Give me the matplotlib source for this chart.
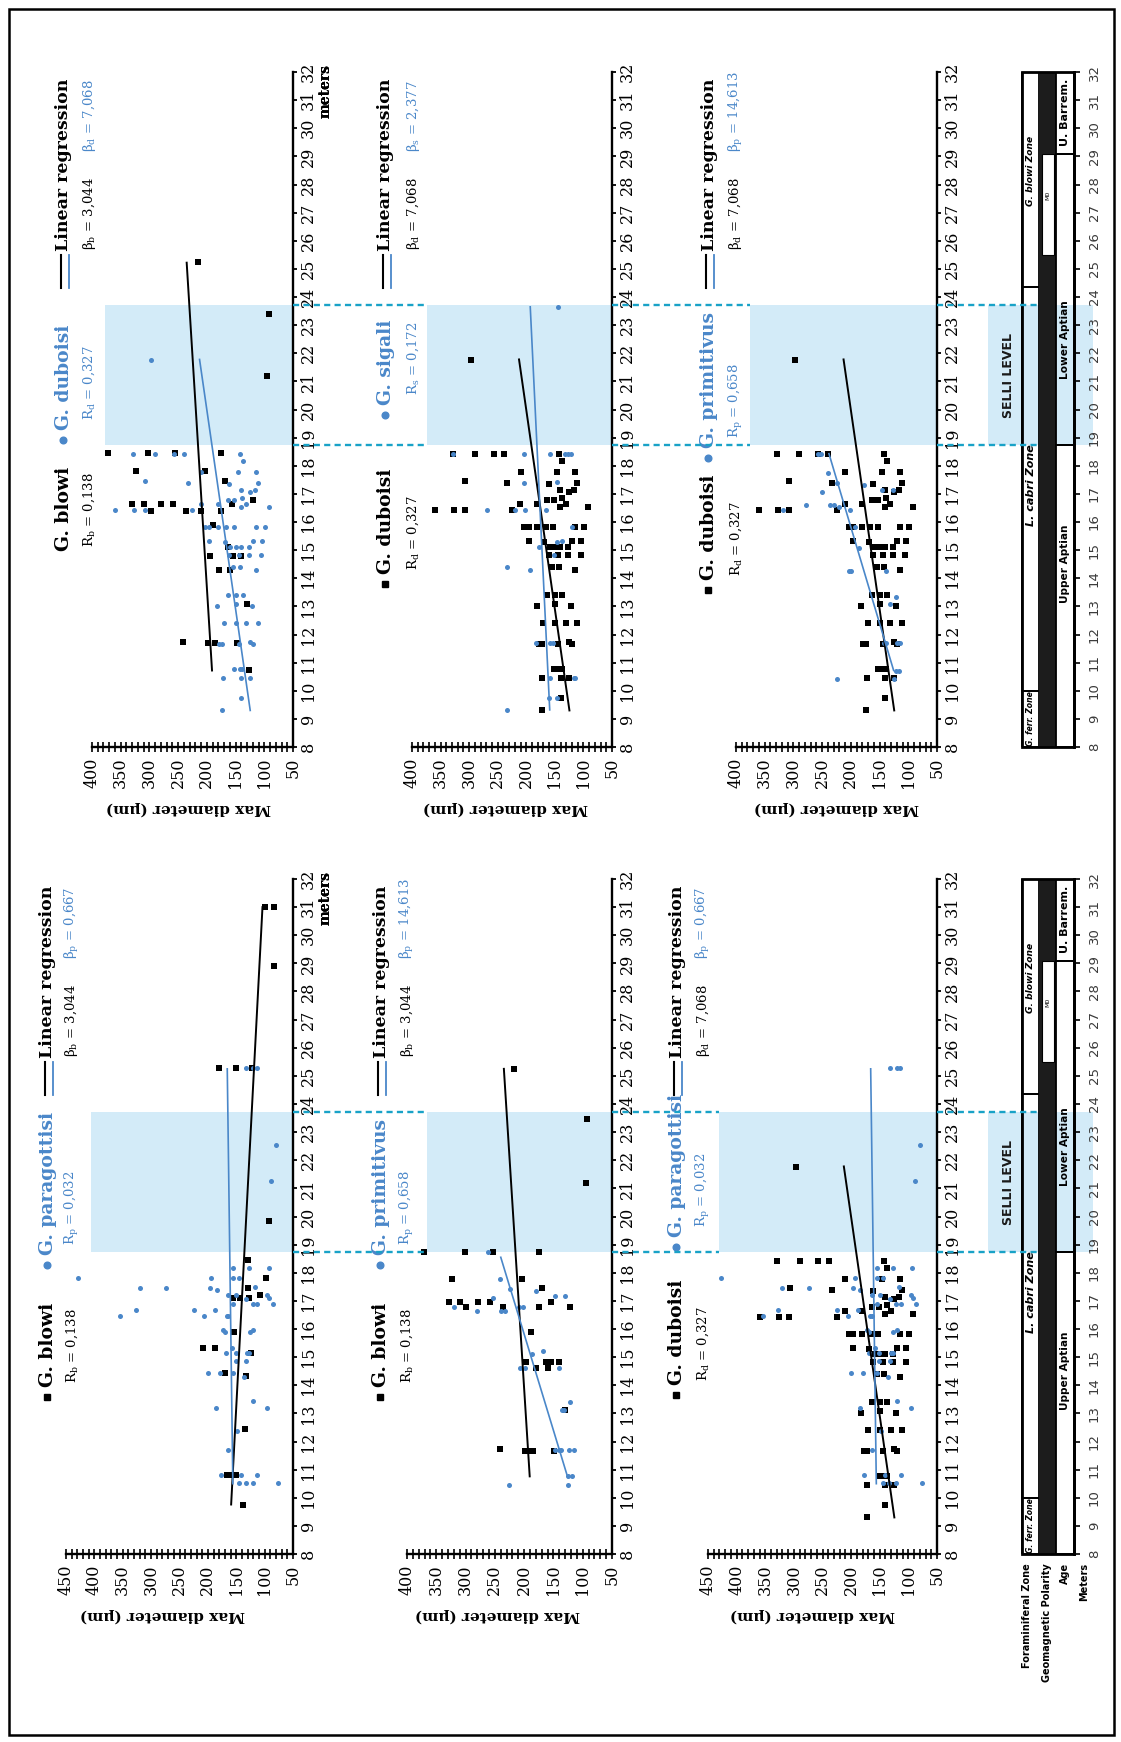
import matplotlib
matplotlib.use("Agg")
import matplotlib.pyplot as plt
from matplotlib.lines import Line2D
from matplotlib.patches import Rectangle

plt.rcParams['font.family'] = 'DejaVu Serif'
plt.rcParams['mathtext.fontset'] = 'dejavuserif'

# ---------------------------------------------------------------------------
# Measurements: stratigraphic height (m) and maximum test diameter (um)
# ---------------------------------------------------------------------------
blowi_t_m = [23.4, 21.2, 25.25, 18.45, 18.45, 18.45, 18.45, 17.8, 17.8, 17.45, 16.8,
             16.65, 16.65, 16.4, 16.65, 16.65, 16.4, 16.4, 16.4, 16.65, 15.9, 15.1,
             14.8, 14.8, 14.8, 14.3, 14.3, 13.1, 11.75, 11.7, 11.7, 11.7, 10.75]
blowi_t_d = [91, 95, 215, 373, 303, 256, 175, 324, 203, 168, 119,
             330, 310, 298, 279, 259, 236, 211, 175, 156, 189, 164,
             195, 155, 140, 178, 160, 130, 242, 198, 185, 147, 127]

duboisi_m = [21.75, 18.43, 18.43, 18.43, 18.43, 18.43, 18.16, 17.78, 17.78, 17.78,
             17.46, 17.4, 17.34, 17.15, 17.07, 17.15, 17.38,
             16.44, 16.44, 16.44, 16.41, 16.65, 16.65, 16.77, 16.77, 16.85, 16.55, 16.55, 16.65,
             15.84, 15.84, 15.84, 15.84, 15.84, 15.84, 15.84,
             15.32, 15.29, 15.11, 15.11, 15.11, 15.11, 15.32, 15.32,
             14.81, 14.81, 14.81, 14.81, 14.4, 14.4, 14.28,
             13.03, 13.39, 13.39, 13.39, 13.1, 13.0,
             12.42, 12.42, 12.42, 12.42,
             11.67, 11.67, 11.67, 11.73, 11.67,
             10.78, 10.78, 10.78, 10.45, 10.45, 10.45, 9.75, 9.32]
duboisi_d = [297, 329, 290, 257, 239, 142, 137, 210, 146, 114,
             307, 233, 161, 141, 125, 117, 111,
             360, 326, 308, 225, 211, 181, 163, 152, 138, 141, 92, 131,
             204, 196, 181, 166, 153, 114, 99,
             196, 169, 159, 150, 141, 127, 120, 104,
             161, 144, 127, 105, 155, 142, 115,
             182, 164, 150, 137, 150, 121,
             171, 150, 131, 111,
             178, 173, 144, 125, 120,
             152, 143, 138, 172, 140, 125, 140, 173]

sigali_m = [23.65, 18.43, 18.43, 18.43, 18.43, 18.43, 18.43, 17.4, 17.42, 16.44, 16.44,
            16.44, 16.44, 15.84, 15.11, 15.29, 15.32, 14.81, 14.4, 14.28, 11.69, 11.69,
            11.69, 10.45, 10.45, 10.45, 9.75, 9.75, 9.32]
sigali_d = [144, 329, 204, 159, 132, 127, 121, 204, 146, 269, 220,
            202, 166, 120, 178, 146, 137, 152, 233, 193, 183, 158,
            154, 159, 117, 114, 160, 146, 234]

primitivus_t_m = [18.43, 18.43, 17.74, 17.39, 17.07, 16.6, 16.41, 16.6, 16.6, 16.55, 16.41,
                  17.33, 17.15, 17.15, 15.84, 15.09, 14.26, 14.26, 14.26, 13.09, 13.35,
                  11.69, 11.69, 11.69, 11.69, 10.72, 10.72, 10.42, 10.42]
primitivus_t_d = [257, 252, 240, 224, 251, 278, 319, 237, 230, 220, 201,
                  177, 145, 127, 192, 185, 203, 199, 139, 132, 121,
                  143, 138, 120, 115, 122, 116, 125, 224]

blowi_a_m = [25.28, 25.28, 25.28, 19.84, 18.45, 17.8, 17.45, 17.11, 17.11, 17.11, 17.2,
             15.88, 15.33, 15.33, 15.16, 14.42, 14.33, 12.46, 10.8, 10.8, 10.8, 10.8,
             9.76, 28.9, 31.0, 31.0]
blowi_a_d = [180, 151, 123, 93, 130, 98, 130, 144, 155, 128, 109,
             154, 209, 188, 124, 169, 133, 134, 167, 161, 155, 151,
             138, 84, 100, 84]

paragottisi_m = [25.28, 25.28, 25.28, 22.55, 21.27, 17.83, 17.45, 17.45, 16.47, 16.67,
                 16.67, 16.47, 16.67, 16.47, 17.8, 17.45, 17.39, 18.18, 17.8, 17.8,
                 18.18, 18.18, 17.2, 16.9, 17.2, 17.08, 17.5, 16.9, 16.9, 17.2,
                 17.1, 16.9, 15.96, 15.9, 16.47, 15.9, 15.96, 15.16, 15.33, 15.16,
                 15.16, 15.16, 14.42, 14.42, 14.42, 14.3, 14.86, 14.86, 13.18, 13.18,
                 13.44, 12.37, 11.69, 10.8, 10.8, 10.8, 10.51, 10.51, 10.51, 10.51]
paragottisi_d = [132, 120, 114, 80, 88, 428, 320, 273, 354, 327,
                 225, 206, 188, 167, 194, 197, 184, 155, 155, 145,
                 127, 93, 164, 155, 150, 132, 117, 121, 113, 96,
                 92, 86, 173, 169, 164, 126, 120, 168, 158, 151,
                 131, 127, 200, 179, 155, 136, 151, 132, 185, 95,
                 120, 148, 164, 177, 141, 113, 145, 133, 121, 77]

blowi_b_m = [25.25, 23.45, 21.2, 18.75, 18.75, 18.75, 18.75, 17.78, 17.78, 17.45, 16.77,
             16.95, 16.95, 16.77, 16.95, 16.95, 16.77, 16.77, 16.95, 15.9, 14.81, 14.81,
             14.81, 14.81, 14.63, 14.63, 13.13, 11.73, 11.67, 11.67, 11.67, 11.67]
blowi_b_d = [217, 92, 95, 371, 301, 253, 174, 323, 203, 169, 121,
             329, 310, 299, 279, 259, 236, 175, 155, 189, 196, 162,
             155, 140, 180, 159, 130, 242, 199, 195, 185, 149]

primitivus_b_m = [18.75, 17.78, 17.42, 17.09, 16.77, 16.65, 16.65, 16.65, 16.77, 16.77,
                  17.34, 17.18, 17.18, 15.23, 15.11, 14.63, 14.63, 14.63, 13.13, 13.13,
                  13.41, 11.7, 11.7, 11.7, 11.7, 11.7, 10.78, 10.78, 10.45, 10.45]
primitivus_b_d = [262, 242, 225, 254, 320, 281, 239, 232, 208, 202,
                  180, 148, 130, 167, 186, 207, 199, 140, 136, 132,
                  121, 147, 141, 137, 123, 115, 125, 118, 125, 226]

# Linear regressions: first and last height, fitted diameter at the first height, slope
fits = {
    'blowi_t': (10.72, 25.22, 191.0, 3.044),
    'duboisi': (9.30, 21.78, 124.5, 7.068),
    'sigali': (9.32, 23.65, 159.0, 2.377),
    'primitivus_t': (10.72, 18.43, 125.5, 14.613),
    'blowi_a': (9.76, 31.0, 159.0, -2.6),
    'paragottisi': (10.5, 25.25, 156.0, 0.667),
    'blowi_b': (10.76, 25.25, 190.5, 3.044),
    'primitivus_b': (10.72, 18.55, 125.5, 14.613),
}

series = {
    'blowi_t': (blowi_t_m, blowi_t_d),
    'duboisi': (duboisi_m, duboisi_d),
    'sigali': (sigali_m, sigali_d),
    'primitivus_t': (primitivus_t_m, primitivus_t_d),
    'blowi_a': (blowi_a_m, blowi_a_d),
    'paragottisi': (paragottisi_m, paragottisi_d),
    'blowi_b': (blowi_b_m, blowi_b_d),
    'primitivus_b': (primitivus_b_m, primitivus_b_d),
}

# Oceanic Anoxic Event 1a interval (Selli Level), metres
selli = (18.75, 23.7)

# Stratigraphic framework
foram_zones = ['G. ferr. Zone', 'L. cabri Zone', 'G. blowi Zone']
foram_bounds = [8, 10.0, 24.35, 32]
foram_label_at = [9.0, 17.3, 28.5]
foram_label_size = [5.6, 8.0, 6.6]
ages = ['Upper Aptian', 'Lower Aptian', 'U. Barrem.']
age_bounds = [8, 18.75, 29.1, 32]
age_label_at = [14.5, 22.5, 30.55]
age_label_size = [7.6, 7.6, 8.0]
normal_chron = ('M0', 25.5, 29.1)

# ---------------------------------------------------------------------------
W, H = 1121, 1742
fig = plt.figure(figsize=(W / 100, H / 100), dpi=100)
fig.patch.set_facecolor('white')

BLUE = '#4a87c9'
BAND = '#d3ebf8'
DASH = '#19a2c7'


def fx(x):
    return x / W


def fy(y):
    return 1 - y / H


def make_axes(left, right, top, bottom):
    return fig.add_axes([fx(left), fy(bottom), (right - left) / W, (bottom - top) / H])


def vtext(x, y, s, **kw):
    kw.setdefault('rotation', 90)
    kw.setdefault('ha', 'center')
    kw.setdefault('va', 'bottom')
    return fig.text(fx(x), fy(y), s, **kw)


def marker(x, y, m, color, size):
    fig.add_artist(Line2D([fx(x)], [fy(y)], marker=m, color=color, markersize=size,
                          linestyle='none', transform=fig.transFigure))


rows = [(72, 747), (879, 1554)]

panels = [
    dict(row=0, left=92, right=293, dmax=400, band=377, black='blowi_t', blue='duboisi',
         names=('G. blowi', 'G. duboisi'), subs=('b', 'd'), R=('0,138', '0,327'),
         beta=('3,044', '7,068'), xs=64, xr=89, sp1=479, sp2=358, square=False, lab_x=188),
    dict(row=0, left=412, right=612, dmax=400, band=374, black='duboisi', blue='sigali',
         names=('G. duboisi', 'G. sigali'), subs=('d', 's'), R=('0,327', '0,172'),
         beta=('7,068', '2,377'), xs=386, xr=413, sp1=502, sp2=333, square=True, lab_x=505),
    dict(row=0, left=736, right=937, dmax=400, band=375, black='duboisi', blue='primitivus_t',
         names=('G. duboisi', 'G. primitivus'), subs=('d', 'p'), R=('0,327', '0,658'),
         beta=('7,068', '14,613'), xs=709, xr=736, sp1=508, sp2=376, square=True, lab_x=836),
    dict(row=1, left=66, right=293, dmax=450, band=406, black='blowi_a', blue='paragottisi',
         names=('G. blowi', 'G. paragottisi'), subs=('b', 'p'), R=('0,138', '0,032'),
         beta=('3,044', '0,667'), xs=48, xr=72, sp1=508, sp2=376, square=True, lab_x=162),
    dict(row=1, left=407, right=612, dmax=400, band=366, black='blowi_b', blue='primitivus_b',
         names=('G. blowi', 'G. primitivus'), subs=('b', 'p'), R=('0,138', '0,658'),
         beta=('3,044', '14,613'), xs=381, xr=407, sp1=508, sp2=376, square=True, lab_x=497),
    dict(row=1, left=708, right=937, dmax=450, band=431, black='duboisi', blue='paragottisi',
         names=('G. duboisi', 'G. paragottisi'), subs=('d', 'p'), R=('0,327', '0,032'),
         beta=('7,068', '0,667'), xs=677, xr=703, sp1=506, sp2=358, square=True, lab_x=812),
]

axes = []
for p in panels:
    y0, y1 = rows[p['row']]
    ax = make_axes(p['left'], p['right'], y0, y1)
    axes.append(ax)
    ax.set_facecolor('none')
    ax.set_xlim(p['dmax'], 50)
    ax.set_ylim(8, 32)
    for s in ('left', 'top'):
        ax.spines[s].set_visible(False)
    for s in ('right', 'bottom'):
        ax.spines[s].set_linewidth(1.7)
    ax.yaxis.tick_right()
    ax.set_yticks(range(8, 33))
    ax.tick_params(axis='y', direction='out', length=3, width=1.3, pad=2,
                   labelsize=11.5, labelrotation=90)
    ax.set_xticks(range(50, p['dmax'] + 1, 50))
    ax.set_xticks(range(50, p['dmax'] + 1, 10), minor=True)
    ax.tick_params(axis='x', which='both', direction='inout', length=7, width=1.2,
                   labelsize=11.5, labelrotation=90, pad=4)
    for lab in ax.get_yticklabels():
        lab.set_va('center')

    ax.fill_betweenx(list(selli), p['band'], 50, color=BAND, lw=0, zorder=0)

    bm, bd = series[p['black']]
    um, ud = series[p['blue']]
    ax.scatter(bd, bm, marker='s', s=19, c='black', lw=0, zorder=2)
    ax.scatter(ud, um, marker='o', s=13, c=BLUE, lw=0, zorder=3)
    for key, col, lw in ((p['black'], 'black', 1.4), (p['blue'], BLUE, 1.2)):
        m0, m1, d0, slope = fits[key]
        ax.plot([d0, d0 + slope * (m1 - m0)], [m0, m1], color=col, lw=lw, zorder=4)

    # legend
    xs, xr = p['xs'], p['xr']
    vtext(xs, y0 + p['sp1'], p['names'][0], fontsize=13.5, fontweight='bold')
    vtext(xr, y0 + p['sp1'] - 4, 'R$_\\mathrm{%s}$ = %s' % (p['subs'][0], p['R'][0]),
          fontsize=9.5)
    if p['square']:
        marker(xs - 1, y0 + p['sp1'] + 10, 's', 'black', 4.8)
    vtext(xs, y0 + p['sp2'], p['names'][1], fontsize=13.5, fontweight='bold', color=BLUE)
    vtext(xr, y0 + p['sp2'] - 10, 'R$_\\mathrm{%s}$ = %s' % (p['subs'][1], p['R'][1]),
          fontsize=9.5, color=BLUE)
    marker(xs - 1, y0 + p['sp2'] + 10, 'o', BLUE, 4.8)
    fig.add_artist(Line2D([fx(xs - 3)] * 2, [fy(y0 + 183), fy(y0 + 216)], color='black',
                          lw=1.5, transform=fig.transFigure))
    fig.add_artist(Line2D([fx(xs + 5)] * 2, [fy(y0 + 183), fy(y0 + 216)], color=BLUE,
                          lw=1.3, transform=fig.transFigure))
    vtext(xs, y0 + 179, 'Linear regression', fontsize=12.5, fontweight='bold')
    vtext(xr, y0 + 178, '\u03b2$_\\mathrm{%s}$ = %s' % (p['subs'][0], p['beta'][0]),
          fontsize=9.5)
    vtext(xr, y0 + 80, '\u03b2$_\\mathrm{%s}$ = %s' % (p['subs'][1], p['beta'][1]),
          fontsize=9.5, color=BLUE)

    # axis titles
    vtext(326, y0 + 46, 'meters', fontsize=10, fontweight='bold')
    fig.text(fx(p['lab_x']), fy(y1 + 61), 'Max diameter (\u00b5m)', rotation=180,
             ha='center', va='center', fontsize=11, fontweight='bold')

# stratigraphic columns
strat_axes = []
for y0, y1 in rows:
    sa = make_axes(985, 1074, y0, y1)
    strat_axes.append(sa)
    sa.set_facecolor('none')
    sa.set_xlim(985, 1074)
    sa.set_ylim(8, 32)
    for s in ('left', 'top', 'bottom'):
        sa.spines[s].set_visible(False)
    sa.spines['right'].set_linewidth(2)
    sa.set_xticks([])
    sa.yaxis.tick_right()
    sa.set_yticks(range(8, 33))
    sa.tick_params(axis='y', direction='out', length=4, width=1.2, pad=6, labelsize=9.5,
                   labelrotation=90, labelcolor='#3a3a3a')
    for lab in sa.get_yticklabels():
        lab.set_family('DejaVu Sans')
        lab.set_va('center')

    sa.add_patch(Rectangle((988, selli[0]), 1039 - 988, selli[1] - selli[0], color=BAND,
                           lw=0, zorder=0))
    sa.add_patch(Rectangle((1056, selli[0]), 1093 - 1056, selli[1] - selli[0], color=BAND,
                           lw=0, zorder=0, clip_on=False))
    sa.text(1008, sum(selli) / 2, 'SELLI LEVEL', rotation=90, ha='center', va='center',
            family='DejaVu Sans', fontweight='bold', fontsize=9, color='#1a1a1a')

    for name, lo, hi, at, fs in zip(foram_zones, foram_bounds[:-1], foram_bounds[1:],
                                    foram_label_at, foram_label_size):
        sa.add_patch(Rectangle((1022, lo), 17, hi - lo, fill=False, ec='black', lw=1.3,
                               zorder=2))
        sa.text(1030.5, at, name, rotation=90, ha='center', va='center', family='DejaVu Sans',
                fontweight='bold', fontstyle='italic', fontsize=fs, zorder=3)
    sa.add_patch(Rectangle((1039, 8), 17, 24, color='#1c1c1c', lw=0, zorder=2))
    sa.add_patch(Rectangle((1041.7, normal_chron[1]), 12.3, normal_chron[2] - normal_chron[1],
                           fc='white', ec='black', lw=0.8, zorder=3))
    sa.text(1047.8, (normal_chron[1] + normal_chron[2]) / 2 + 0.3, normal_chron[0],
            rotation=90, ha='center', va='center', family='DejaVu Sans', fontsize=4.5, zorder=4)
    for name, lo, hi, at, fs in zip(ages, age_bounds[:-1], age_bounds[1:], age_label_at,
                                    age_label_size):
        sa.add_patch(Rectangle((1056, lo), 18, hi - lo, fill=False, ec='black', lw=1.3,
                               zorder=2))
        sa.text(1065, at, name, rotation=90, ha='center', va='center', family='DejaVu Sans',
                fontweight='bold', fontsize=fs, zorder=3)
    sa.add_patch(Rectangle((1022, 8), 52, 24, fill=False, ec='black', lw=2, zorder=5,
                           clip_on=False))

for x, s in ((1027, 'Foraminiferal Zone'), (1047, 'Geomagnetic Polarity'), (1065, 'Age'),
             (1084, 'Meters')):
    fig.text(fx(x), fy(1563), s, rotation=90, ha='center', va='top', family='DejaVu Sans',
             fontweight='bold', fontsize=7)

# dashed guides marking the Selli Level between panels
to_fig = fig.transFigure.inverted()
for r in range(2):
    row_axes = [axes[i] for i in range(6) if panels[i]['row'] == r]
    row_panels = [p for p in panels if p['row'] == r]
    for i in range(3):
        for m in selli:
            a = to_fig.transform(row_axes[i].transData.transform((50, m)))
            if i < 2:
                b = to_fig.transform(row_axes[i + 1].transData.transform(
                    (row_panels[i + 1]['band'], m)))
            else:
                b = to_fig.transform(strat_axes[r].transData.transform((1039, m)))
            fig.add_artist(Line2D([a[0], b[0]], [a[1], b[1]], color=DASH, lw=1.7,
                                  dashes=(2.6, 1.8), transform=fig.transFigure, zorder=6))

# page frame
fig.add_artist(Rectangle((fx(9), fy(1735)), (1114 - 9) / W, (1735 - 9) / H, fill=False,
                         ec='black', lw=1.8, transform=fig.transFigure))

fig.savefig('out.png', dpi=100, facecolor='white')
